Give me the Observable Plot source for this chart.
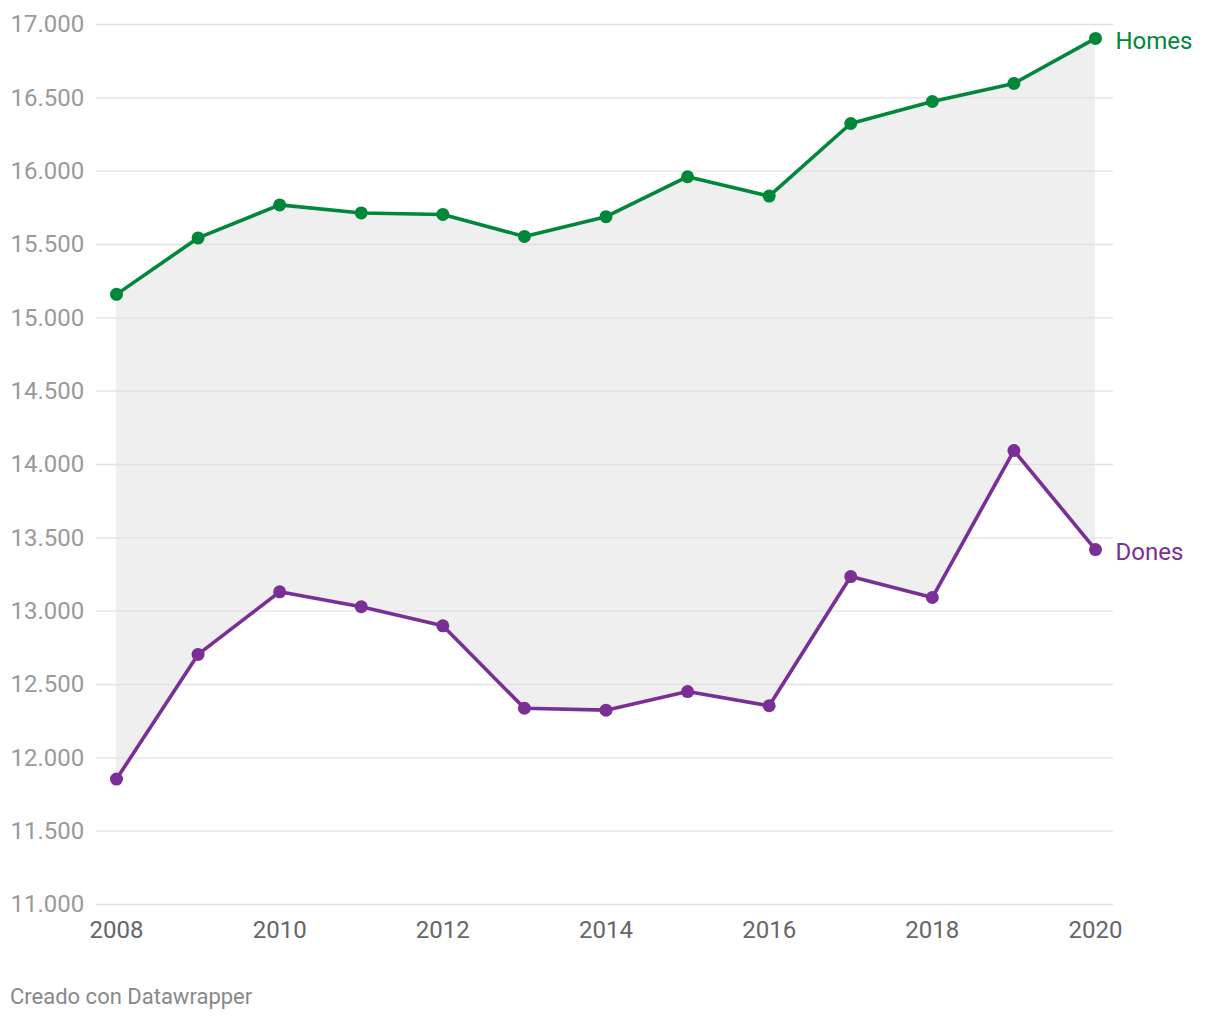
<!DOCTYPE html>
<html>
<head>
<meta charset="utf-8">
<script src="https://cdn.jsdelivr.net/npm/d3@7"></script>
<script src="https://cdn.jsdelivr.net/npm/@observablehq/plot@0.6"></script>
<style>
  body { margin: 0; background: #fff; font-family: Roboto, sans-serif; }
  #credit { font-family: Roboto, sans-serif; font-size: 22px; color: #888; margin: 24px 0 0 10px; line-height: 26px; }
</style>
</head>
<body>
<div id="chart"></div>
<div id="credit">Creado con Datawrapper</div>
<script>
const years = [2008, 2009, 2010, 2011, 2012, 2013, 2014, 2015, 2016, 2017, 2018, 2019, 2020];
const homes = [15160, 15545, 15770, 15715, 15705, 15555, 15690, 15962, 15830, 16325, 16475, 16598, 16905];
const dones = [11855, 12705, 13132, 13030, 12900, 12338, 12325, 12452, 12355, 13236, 13093, 14095, 13420];
const yTicks = [11000, 11500, 12000, 12500, 13000, 13500, 14000, 14500, 15000, 15500, 16000, 16500, 17000];
const xTicks = [2008, 2010, 2012, 2014, 2016, 2018, 2020];
const seriesNames = ["Homes", "Dones"];
const colors = ["#00873a", "#7a2f96"];

const rows = years.map((y, i) => ({year: y, homes: homes[i], dones: dones[i]}));
const long = [];
years.forEach((y, i) => {
  long.push({year: y, value: homes[i], series: seriesNames[0]});
  long.push({year: y, value: dones[i], series: seriesNames[1]});
});
const lastPts = [
  {year: years[years.length - 1], value: homes[homes.length - 1], series: seriesNames[0]},
  {year: years[years.length - 1], value: dones[dones.length - 1], series: seriesNames[1]}
];
const fmt = d => d3.format(",")(d).replace(/,/g, ".");

const chart = Plot.plot({
  width: 1220,
  height: 960,
  marginLeft: 96,
  marginRight: 107,
  marginTop: 24,
  marginBottom: 56,
  style: {fontFamily: "Roboto, sans-serif", background: "#fff"},
  x: {domain: [2008, 2020], insetLeft: 20, insetRight: 18, axis: null},
  y: {domain: [11000, 17000], axis: null},
  color: {domain: seriesNames, range: colors},
  marks: [
    Plot.areaY(rows, {x: "year", y1: "dones", y2: "homes", fill: "#efefef"}),
    Plot.ruleY(yTicks, {stroke: "#e2e2e2", strokeWidth: 1.3}),
    Plot.text(yTicks, {y: d => d, text: d => fmt(d), frameAnchor: "left", dx: -86, textAnchor: "start", fill: "#9a9a9a", fontSize: 24}),
    Plot.text(xTicks, {x: d => d, y: 11000, text: d => String(d), dy: 26, fill: "#666", fontSize: 24}),
    Plot.line(long, {x: "year", y: "value", z: "series", stroke: "series", strokeWidth: 3.6}),
    Plot.dot(long, {x: "year", y: "value", fill: "series", r: 6.5}),
    Plot.text(lastPts, {x: "year", y: "value", text: "series", fill: "series", dx: 20, dy: 3, textAnchor: "start", fontSize: 24})
  ]
});
document.getElementById("chart").appendChild(chart);
</script>
</body>
</html>
